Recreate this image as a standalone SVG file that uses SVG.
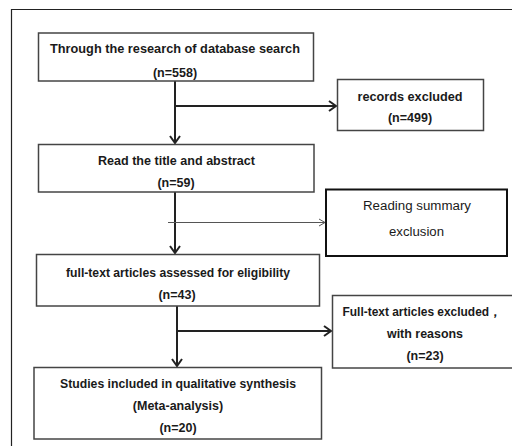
<svg xmlns="http://www.w3.org/2000/svg" width="512" height="446" viewBox="0 0 512 446">
<style>
.box{fill:#fff;stroke:#444;stroke-width:1.5}
.t{font-family:"Liberation Sans",Arial,sans-serif;font-weight:bold;font-size:12.5px;fill:#1a1a1a;text-anchor:middle}
.r{font-family:"Liberation Sans",Arial,sans-serif;font-size:12.5px;fill:#1a1a1a;text-anchor:middle}
.ln{stroke:#222;stroke-width:2;fill:none}
.thin{stroke:#555;stroke-width:1;fill:none}
</style>
<defs>
<marker id="ah" markerWidth="12" markerHeight="12" refX="10" refY="6" orient="auto" markerUnits="userSpaceOnUse">
<path d="M3,1 L10,6 L3,11" fill="none" stroke="#222" stroke-width="2"/>
</marker>
<marker id="ahThin" markerWidth="10" markerHeight="10" refX="9" refY="5" orient="auto" markerUnits="userSpaceOnUse">
<path d="M3,1.5 L9,5 L3,8.5" fill="none" stroke="#555" stroke-width="1"/>
</marker>
</defs>
<rect width="512" height="446" fill="#fff"/>
<path d="M11.5,446 V9.5 H512" fill="none" stroke="#222" stroke-width="1.2"/>
<g id="connectors">
<line class="ln" x1="175" y1="81" x2="175" y2="143" marker-end="url(#ah)"/>
<line class="ln" x1="175" y1="106" x2="336" y2="106" marker-end="url(#ah)"/>
<line class="ln" x1="175" y1="192" x2="175" y2="253" marker-end="url(#ah)"/>
<line class="thin" x1="168" y1="222.5" x2="325" y2="222.5" marker-end="url(#ahThin)"/>
<line class="ln" x1="177" y1="306" x2="177" y2="366" marker-end="url(#ah)"/>
<line class="ln" x1="177" y1="331" x2="331" y2="331" marker-end="url(#ah)"/>
</g>
<g id="n1">
<rect class="box" x="38.5" y="33" width="275" height="48"/>
<text class="t" x="175" y="52.5" textLength="250" lengthAdjust="spacingAndGlyphs">Through the research of database search</text>
<text class="t" x="175" y="76.5">(n=558)</text>
</g>
<g id="n2">
<rect class="box" x="337.5" y="79.5" width="146" height="51"/>
<text class="t" x="410" y="100.5" textLength="105" lengthAdjust="spacingAndGlyphs">records excluded</text>
<text class="t" x="410" y="122">(n=499)</text>
</g>
<g id="n3">
<rect class="box" x="38.5" y="144.5" width="275.5" height="47.5"/>
<text class="t" x="176.5" y="164.5" textLength="157" lengthAdjust="spacingAndGlyphs">Read the title and abstract</text>
<text class="t" x="176" y="187">(n=59)</text>
</g>
<g id="n4">
<rect x="326" y="189.5" width="181" height="66.5" fill="#fff" stroke="#111" stroke-width="2"/>
<text class="r" x="417" y="210" textLength="108" lengthAdjust="spacingAndGlyphs">Reading summary</text>
<text class="r" x="416.5" y="236" textLength="55" lengthAdjust="spacingAndGlyphs">exclusion</text>
</g>
<g id="n5">
<rect class="box" x="36.5" y="254.5" width="283" height="51.5"/>
<text class="t" x="178" y="276.5" textLength="224" lengthAdjust="spacingAndGlyphs">full-text articles assessed for eligibility</text>
<text class="t" x="177" y="298.5">(n=43)</text>
</g>
<g id="n6">
<rect class="box" x="332.5" y="295.5" width="185" height="72.5"/>
<text class="t" x="422" y="316" textLength="159" lengthAdjust="spacingAndGlyphs">Full-text articles excluded，</text>
<text class="t" x="425" y="337.5" textLength="76" lengthAdjust="spacingAndGlyphs">with reasons</text>
<text class="t" x="425" y="359.5">(n=23)</text>
</g>
<g id="n7">
<rect class="box" x="34" y="367.5" width="287.5" height="71.5"/>
<text class="t" x="178" y="387.5" textLength="236" lengthAdjust="spacingAndGlyphs">Studies included in qualitative synthesis</text>
<text class="t" x="178" y="409.5">(Meta-analysis)</text>
<text class="t" x="178" y="431.5">(n=20)</text>
</g>
</svg>
